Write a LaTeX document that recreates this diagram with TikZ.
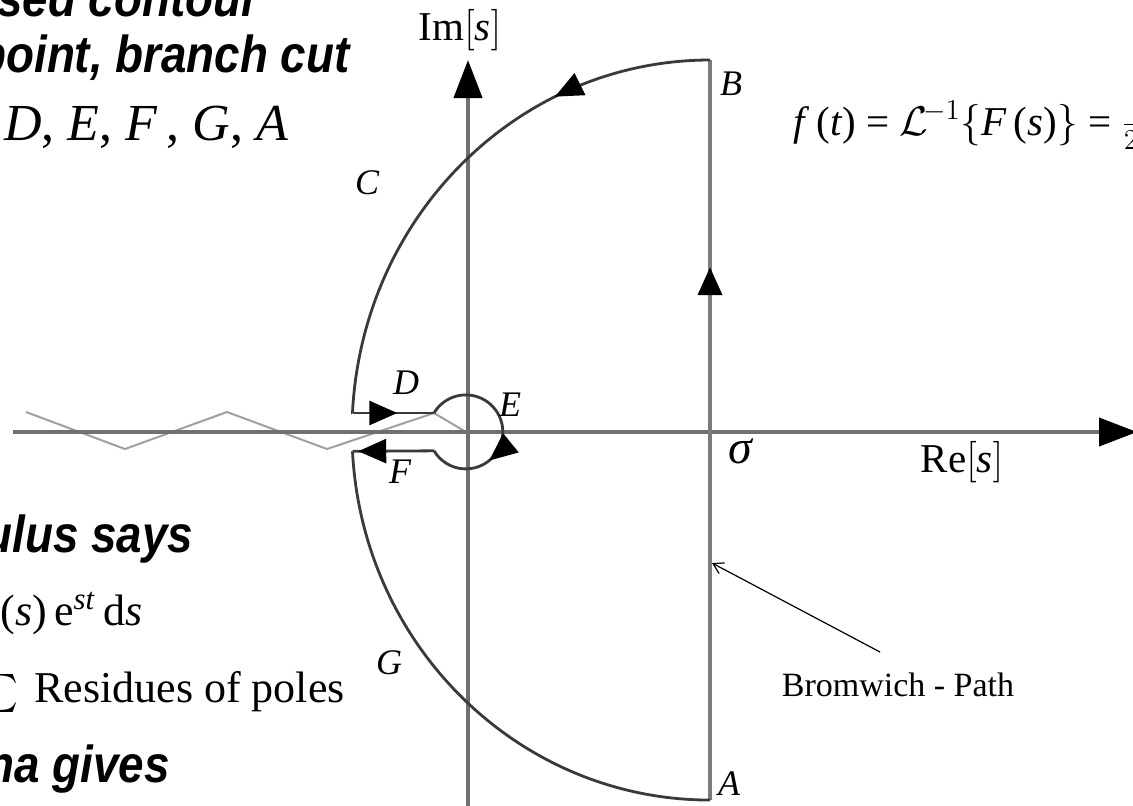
\documentclass[tikz,border=0pt]{standalone}
\usepackage{fontspec}
\setmainfont{Liberation Serif}
\newfontfamily\headfont[FakeStretch=0.88]{Liberation Sans}
\usetikzlibrary{arrows.meta,decorations.markings}
\definecolor{axisgray}{HTML}{707070}
\definecolor{pathgray}{HTML}{7C7C7C}
\definecolor{curvegray}{HTML}{3A3A3A}
\definecolor{cutgray}{HTML}{A0A0A0}
\begin{document}
\begin{tikzpicture}[x=0.5pt,y=-0.5pt,
  axis/.style={draw=axisgray, line width=2pt},
  bromline/.style={draw=pathgray, line width=2pt},
  contour/.style={draw=curvegray, line width=1.4pt},
  cutline/.style={draw=cutgray, line width=1pt},
  bigtip/.style={-{Triangle[length=19pt,width=14pt,color=black]}},
  midtip/.style={postaction={decorate},
    decoration={markings, mark=at position #1 with {\arrow{Triangle[length=14pt,width=12pt,color=black]}}}},
  lab/.style={inner sep=0pt, font=\fontsize{18}{20}\selectfont\itshape},
  head/.style={inner sep=0pt, anchor=base west, font=\headfont\bfseries\itshape\fontsize{26}{30}\selectfont},
  body/.style={inner sep=0pt, anchor=base west, font=\fontsize{22}{26}\selectfont},
  small/.style={inner sep=0pt, font=\fontsize{20.5}{22}\selectfont}]
\useasboundingbox (0,0) rectangle (1133,805);
\fill[white] (0,0) rectangle (1133,805);

% coordinates of the contour
\coordinate (A) at (710,800);
\coordinate (B) at (710,60);
\coordinate (Dc) at (352.5,413);
\coordinate (Dk) at (434,413);
\coordinate (Fk) at (434,450.8);
\coordinate (Fc) at (352.5,451.3);
\coordinate (O) at (466,432);
\coordinate (Rl) at (13,432);
\coordinate (Rr) at (1137,432);
\coordinate (Ib) at (468,806);
\coordinate (It) at (468,60);

% branch cut zigzag
\draw[cutline] (26,412) -- (125,449) -- (227,412) -- (327,449) -- (Dk) -- (O);

% axes
\draw[axis, bigtip] (Rl) -- (Rr);
\draw[axis, bigtip] (Ib) -- (It);

% Bromwich path
\draw[bromline, midtip=0.72] (A) -- (B);

% large arcs
\draw[contour, midtip=0.29] (B) arc[start angle=-90, end angle=-177.07, x radius=358, y radius=372] -- (Dc);
\draw[contour] (Fc) arc[start angle=177, end angle=90, x radius=358, y radius=368];

% keyhole
\draw[contour, midtip=0.55] (Dc) -- (Dk);
\draw[contour, midtip=0.67] (Dk) arc[start angle=-149.3, end angle=149.3, radius=37];
\draw[contour, midtip=0.93] (Fk) -- (Fc);

% labels
\node[lab] (Bl) at (731,84) {B};
\node[lab] (Cl) at (367,183) {C};
\node[lab] (Dl) at (406,383) {D};
\node[lab] (El) at (510,405) {E};
\node[lab] (Fl) at (400,472) {F};
\node[lab] (Gl) at (389,663) {G};
\node[lab] (Al) at (729,784) {A};
\node[inner sep=0pt, font=\fontsize{24}{26}\selectfont\itshape] (sig) at (740,451) {σ};
\node[small] (Re) at (962,462) {Re$\Bigl[$\textit{s}$\Bigr]$};
\node[small] (Im) at (460,30) {Im$\Bigl[$\textit{s}$\Bigr]$};
\node[small, font=\fontsize{17}{19}\selectfont] (Brom) at (898,685) {Bromwich - Path};
\coordinate (bt) at (880,652);
\coordinate (bp) at (712,563);
\draw[-{Straight Barb[length=5pt,width=6pt]}, line width=0.6pt] (bt) -- (bp);

% formula upper right
\node[inner sep=0pt, anchor=base west, font=\fontsize{20.5}{22}\selectfont] (ft) at (793,135)
  {\textit{f}\,(\textit{t}) = $\mathcal{L}^{\!-1}\Bigl\{$\textit{F}\,(\textit{s})$\Bigr\}$ = $\frac{1}{2\pi j}$};

% clipped slide text on the left
\node[head] (t1) at (-3,16) {sed contour};
\node[head] (t2) at (-22,72) {point, branch cut};
\node[body, font=\fontsize{26}{30}\selectfont] (t3) at (4,140) {\textit{D}, \textit{E}, \textit{F}\,, \textit{G}, \textit{A}};
\node[head] (t4) at (-16,552) {ulus says};
\node[body] (t5) at (0,625) {(\textit{s})\,e\textsuperscript{\textit{st}}\,d\textit{s}};
\node[inner sep=0pt, anchor=east, font=\fontsize{22}{26}\selectfont] (sum) at (19,694) {\scalebox{1.9}{$\sum$}};
\node[body] (t6) at (34,702) {Residues of poles};
\node[head] (t7) at (-14,782) {na gives};
\end{tikzpicture}
\end{document}
